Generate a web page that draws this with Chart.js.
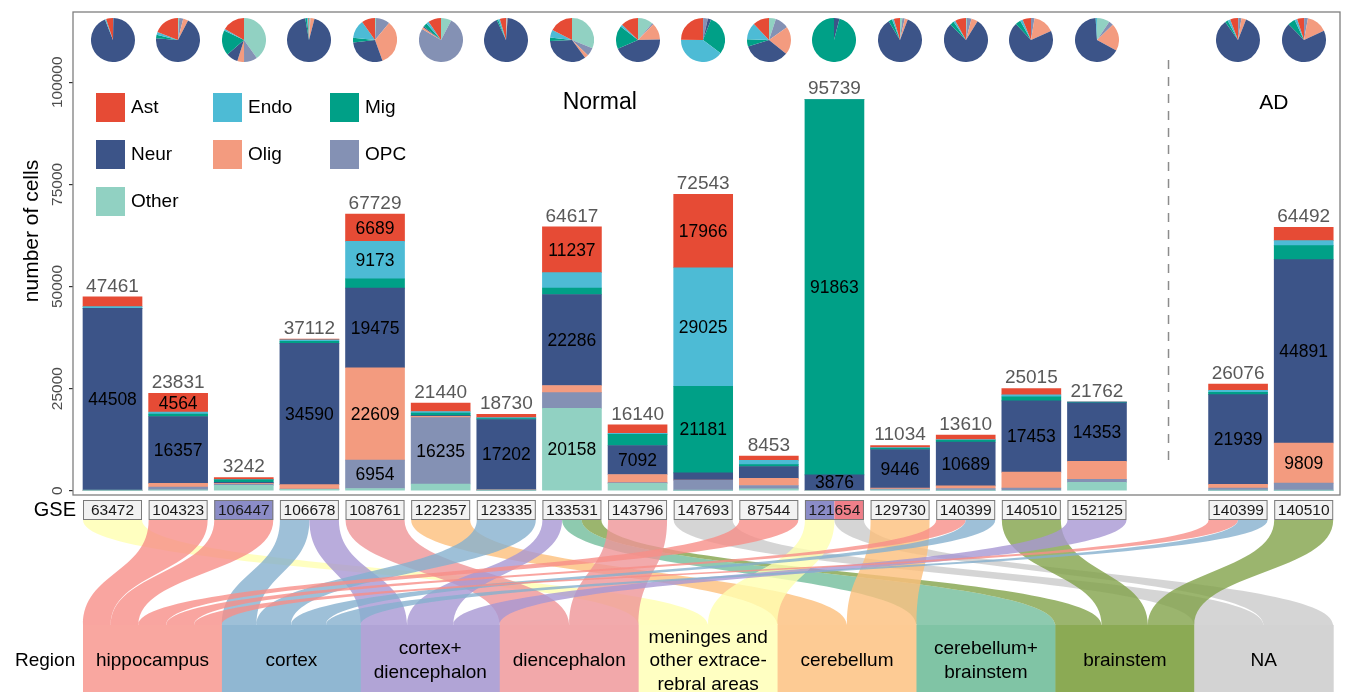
<!DOCTYPE html>
<html>
<head>
<meta charset="utf-8">
<script src="https://cdn.jsdelivr.net/npm/chart.js@4.4.1/dist/chart.umd.min.js"></script>
<style>
  body { margin: 0; background: #fff; }
  #wrap { position: relative; width: 1345px; height: 692px; overflow: hidden; }
  #wrap canvas.pie { position: absolute; }
</style>
</head>
<body>
<div id="wrap"><canvas id="main" width="1345" height="692"></canvas></div>
<script>
// datasets (GSE accessions) and the condition group they belong to
const gse = ['63472', '104323', '106447', '106678', '108761', '122357', '123335', '133531', '143796',
             '147693', '87544', '121654', '129730', '140399', '140510', '152125', '140399', '140510'];
const group = ['Normal', 'Normal', 'Normal', 'Normal', 'Normal', 'Normal', 'Normal', 'Normal', 'Normal',
               'Normal', 'Normal', 'Normal', 'Normal', 'Normal', 'Normal', 'Normal', 'AD', 'AD'];

// cell counts per cell type, stacked bottom to top in this order
const cellTypes = ['Other', 'OPC', 'Olig', 'Neur', 'Mig', 'Endo', 'Ast'];
const Other = [43, 210, 1300, 350, 549, 1650, 68, 20158, 1798, 61, 430, 0, 188, 100, 0, 2060, 47, 62];
const OPC   = [30, 700, 320, 50, 6954, 16235, 60, 3850, 180, 2500, 850, 0, 200, 451, 652, 720, 620, 1800];
const Olig  = [40, 900, 160, 1100, 22609, 320, 100, 1750, 1990, 60, 1750, 0, 250, 650, 3900, 4400, 900, 9809];
const Neur  = [44508, 16357, 280, 34590, 19475, 180, 17202, 22286, 7092, 1750, 2900, 3876, 9446, 10689, 17453, 14353, 21939, 44891];
const Mig   = [60, 600, 600, 500, 2280, 600, 200, 1586, 2750, 21181, 450, 91863, 300, 420, 980, 50, 550, 3460];
const Endo  = [380, 500, 40, 350, 9173, 415, 250, 3750, 250, 29025, 1050, 0, 150, 200, 480, 179, 520, 1220];
const Ast   = [2400, 4564, 542, 172, 6689, 2040, 850, 11237, 2080, 17966, 1023, 0, 500, 1100, 1550, 0, 1500, 3250];
const counts = { Other, OPC, Olig, Neur, Mig, Endo, Ast };

const yTicks = [0, 25000, 50000, 75000, 100000];

// brain regions and which dataset samples each one
const regions = ['hippocampus', 'cortex', 'cortex+\ndiencephalon', 'diencephalon',
                 'meninges and\nother extrace-\nrebral areas', 'cerebellum', 'cerebellum+\nbrainstem', 'brainstem', 'NA'];
const links = [[0, 4], [1, 0], [2, 0], [3, 1], [3, 2], [4, 3], [5, 5], [6, 1], [7, 2], [7, 6], [7, 7],
               [8, 3], [9, 8], [10, 0], [11, 4], [11, 8], [12, 5], [13, 0], [13, 1], [14, 7], [15, 2],
               [16, 0], [16, 1], [17, 7]];

// styling
const typeColors = { Ast: '#E64B35', Endo: '#4DBBD5', Mig: '#00A087', Neur: '#3C5488',
                     Olig: '#F39B7F', OPC: '#8491B4', Other: '#91D1C2' };
const regionColors = ['#F9A7A0', '#90B7D2', '#B1A4D6', '#F2A8AA', '#FFFFC2', '#FDCB94', '#80C4A5', '#8BAA54', '#D3D3D3'];
const ribbonColors = ['#F78F88', '#86B0CE', '#A797D3', '#EF9597', '#FFFFB0', '#FDBF7C', '#72BD9B', '#82A24A', '#CBCBCB'];
const boxFills = { 2: ['#8B8CC7'], 11: ['#8B8CC7', '#EF7F89'] };
const FONT = '"Liberation Sans", Arial, sans-serif';
const labelMin = 4500;
const extraLabels = [[11, 'Neur']];
const adGap = 1.15;            // extra room in front of the AD group
const barW = 59;

const xPos = gse.map((g, i) => group[i] === 'AD' ? i + 1 + adGap : i + 1);
const totals = gse.map((g, i) => cellTypes.reduce((s, t) => s + counts[t][i], 0));

function text(ctx, str, x, y, font, color, align, base) {
  ctx.font = font;
  ctx.fillStyle = color;
  ctx.textAlign = align || 'center';
  ctx.textBaseline = base || 'middle';
  ctx.fillText(str, x, y);
}

const decor = {
  id: 'decor',
  afterDraw(chart) {
    const ctx = chart.ctx, xs = chart.scales.x, ys = chart.scales.y, a = chart.chartArea;
    ctx.save();

    // panel frame
    ctx.strokeStyle = '#7F7F7F';
    ctx.lineWidth = 1.3;
    ctx.strokeRect(a.left, a.top, a.right - a.left, a.bottom - a.top);

    // y tick labels (rotated) and axis title
    ys.ticks.forEach(t => {
      ctx.save();
      ctx.translate(58, ys.getPixelForValue(t.value));
      ctx.rotate(-Math.PI / 2);
      text(ctx, String(t.value), 0, 0, '15.5px ' + FONT, '#4D4D4D');
      ctx.restore();
    });
    ctx.save();
    ctx.translate(32, 231);
    ctx.rotate(-Math.PI / 2);
    text(ctx, 'number of cells', 0, 0, '21px ' + FONT, '#000');
    ctx.restore();

    // legend
    const legendOrder = cellTypes.slice().reverse();
    legendOrder.forEach((t, k) => {
      const col = k % 3, row = Math.floor(k / 3);
      const lx = 96 + col * 117, ly = 93 + row * 47;
      ctx.fillStyle = typeColors[t];
      ctx.fillRect(lx, ly, 29, 29);
      text(ctx, t, lx + 35, ly + 15, '19px ' + FONT, '#000', 'left');
    });

    // group titles and divider
    const px = xPos.map(v => xs.getPixelForValue(v));
    const normalIdx = group.map((g, i) => i).filter(i => group[i] === 'Normal');
    const adIdx = group.map((g, i) => i).filter(i => group[i] === 'AD');
    const mid = idx => (px[idx[0]] + px[idx[idx.length - 1]]) / 2;
    text(ctx, 'Normal', mid(normalIdx) - 5, 103, '23px ' + FONT, '#000');
    text(ctx, 'AD', mid(adIdx) + 3, 103, '21px ' + FONT, '#000');
    const divX = xs.getPixelForValue((xPos[normalIdx[normalIdx.length - 1]] + xPos[adIdx[0]]) / 2) + 1;
    ctx.strokeStyle = '#8C8C8C';
    ctx.lineWidth = 1.5;
    ctx.setLineDash([9, 8]);
    ctx.beginPath();
    ctx.moveTo(divX, 60);
    ctx.lineTo(divX, 460);
    ctx.stroke();
    ctx.setLineDash([]);

    // segment values and bar totals
    cellTypes.forEach((t, d) => {
      chart.getDatasetMeta(d).data.forEach((el, i) => {
        const v = counts[t][i];
        const extra = extraLabels.some(e => e[0] === i && e[1] === t);
        if (v >= labelMin || extra) {
          text(ctx, String(v), el.x, (el.y + el.base) / 2 + 1, '17.5px ' + FONT, '#000');
        }
      });
    });
    totals.forEach((v, i) => {
      text(ctx, String(v), px[i], ys.getPixelForValue(v) - 1, '19px ' + FONT, '#595959', 'center', 'bottom');
    });

    // alluvial ribbons between datasets and regions
    const topY = 520, botY = 625;
    const rLeft = px[0] - barW / 2, rRight = px[px.length - 1] + barW / 2;
    const rW = (rRight - rLeft) / regions.length;
    const topPos = {}, botPos = {};
    gse.forEach((g, i) => {
      const out = links.filter(l => l[0] === i).sort((p, q) => p[1] - q[1]);
      out.forEach((l, k) => {
        const w = barW / out.length;
        topPos[links.indexOf(l)] = [px[i] - barW / 2 + k * w, px[i] - barW / 2 + (k + 1) * w];
      });
    });
    regions.forEach((r, j) => {
      const inc = links.filter(l => l[1] === j).sort((p, q) => xPos[p[0]] - xPos[q[0]]);
      inc.forEach((l, k) => {
        const w = rW / inc.length;
        botPos[links.indexOf(l)] = [rLeft + j * rW + k * w, rLeft + j * rW + (k + 1) * w];
      });
    });
    const cy = (botY - topY) * 0.5;
    ctx.globalAlpha = 0.8;
    links.forEach((l, n) => {
      const [a0, a1] = topPos[n], [b0, b1] = botPos[n];
      ctx.fillStyle = ribbonColors[l[1]];
      ctx.beginPath();
      ctx.moveTo(a0, topY);
      ctx.bezierCurveTo(a0, topY + cy, b0, botY - cy, b0, botY);
      ctx.lineTo(b1, botY);
      ctx.bezierCurveTo(b1, botY - cy, a1, topY + cy, a1, topY);
      ctx.closePath();
      ctx.fill();
    });
    ctx.globalAlpha = 1;

    // region boxes
    regions.forEach((r, j) => {
      ctx.fillStyle = regionColors[j];
      ctx.fillRect(rLeft + j * rW, botY, rW + 0.5, 692 - botY);
      const lines = r.split('\n');
      lines.forEach((s, k) => {
        text(ctx, s, rLeft + (j + 0.5) * rW, 661 + (k - (lines.length - 1) / 2) * 23.5, '19px ' + FONT, '#000');
      });
    });
    text(ctx, 'Region', 15, 661, '19px ' + FONT, '#000', 'left');

    // dataset label boxes
    text(ctx, 'GSE', 76, 510, '20px ' + FONT, '#000', 'right');
    gse.forEach((g, i) => {
      const x0 = px[i] - barW / 2;
      const fills = boxFills[i] || ['#F2F2F2'];
      fills.forEach((f, k) => {
        ctx.fillStyle = f;
        ctx.fillRect(x0 + k * barW / fills.length, 500, barW / fills.length, 20);
      });
      ctx.strokeStyle = '#7A7A7A';
      ctx.lineWidth = 1;
      ctx.strokeRect(x0 + 0.5, 500.5, barW - 1, 19);
      text(ctx, g, px[i], 511, '15.5px ' + FONT, '#1A1A1A');
    });

    ctx.restore();
  }
};

const chart = new Chart(document.getElementById('main'), {
  type: 'bar',
  data: {
    datasets: cellTypes.map(t => ({
      label: t,
      data: gse.map((g, i) => ({ x: xPos[i], y: counts[t][i] })),
      backgroundColor: typeColors[t],
      borderWidth: 0,
      barThickness: barW
    }))
  },
  options: {
    responsive: false,
    animation: false,
    events: [],
    layout: { padding: { left: 0, top: 12, right: 5, bottom: 197 } },
    scales: {
      x: { type: 'linear', min: 0.398, max: 19.703, offset: false, display: false, stacked: true },
      y: {
        stacked: true, min: -1050, max: 117200,
        afterFit: s => { s.width = 73; },
        afterBuildTicks: s => { s.ticks = yTicks.map(v => ({ value: v })); },
        ticks: { display: false },
        grid: { drawOnChartArea: false, tickLength: 4, tickColor: '#333', lineWidth: 1.2 },
        border: { display: false }
      }
    },
    plugins: { legend: { display: false }, tooltip: { enabled: false } }
  },
  plugins: [decor]
});

// small composition pies above each bar
const wrap = document.getElementById('wrap');
gse.forEach((g, i) => {
  const c = document.createElement('canvas');
  c.className = 'pie';
  c.width = 44;
  c.height = 44;
  c.style.left = (chart.scales.x.getPixelForValue(xPos[i]) - 22) + 'px';
  c.style.top = '18px';
  wrap.appendChild(c);
  new Chart(c, {
    type: 'pie',
    data: {
      labels: cellTypes,
      datasets: [{
        data: cellTypes.map(t => counts[t][i]),
        backgroundColor: cellTypes.map(t => typeColors[t]),
        borderWidth: 0
      }]
    },
    options: {
      responsive: false,
      animation: false,
      events: [],
      plugins: { legend: { display: false }, tooltip: { enabled: false } }
    }
  });
});
</script>
</body>
</html>
